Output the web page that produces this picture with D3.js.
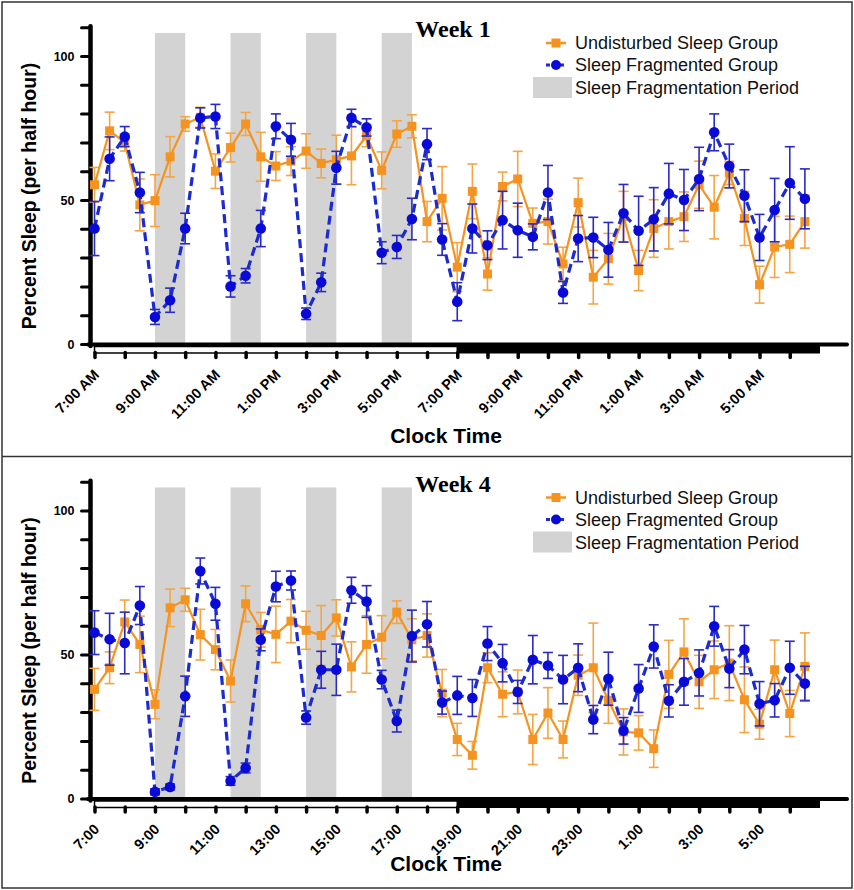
<!DOCTYPE html>
<html>
<head>
<meta charset="utf-8">
<script src="https://cdn.jsdelivr.net/npm/d3@7"></script>
<style>
  body { margin: 0; background: #fff; }
  svg { display: block; }
</style>
</head>
<body>
<svg id="chart" width="854" height="890"></svg>
<script>
// ---------- DATA ----------
// half-hour slots, expressed as hours after 7:00 AM
const slots = d3.range(0, 24, 0.5);
const hourTicks = d3.range(0, 24);
const labelHours = [0, 2, 4, 6, 8, 10, 12, 14, 16, 18, 20, 22];
const week1TickLabels = ["7:00 AM","9:00 AM","11:00 AM","1:00 PM","3:00 PM","5:00 PM","7:00 PM","9:00 PM","11:00 PM","1:00 AM","3:00 AM","5:00 AM"];
const week4TickLabels = ["7:00","9:00","11:00","13:00","15:00","17:00","19:00","21:00","23:00","1:00","3:00","5:00"];
const fragPeriods = [[2, 3], [4.5, 5.5], [7, 8], [9.5, 10.5]];
const lightPhase = [0, 12];
const darkPhase = [12, 24];
const yTicks = [0, 10, 20, 30, 40, 50, 60, 70, 80, 90, 100, 110];
const yLabels = [0, 50, 100];
const seriesNames = ["Undisturbed Sleep Group", "Sleep Fragmented Group", "Sleep Fragmentation Period"];

const week1Undisturbed = [55.3,74,70,48.3,49.8,65,76.4,78.7,60,68.2,76.4,65,61.8,63.5,67,62.7,64,65.3,72.3,60.3,72.9,75.6,42.5,50.6,26.7,53,24.3,54.7,57.3,41.9,42.5,27.8,49.1,23.2,29.6,44.2,25.5,40.1,42.5,44.2,55.3,47.5,59.4,43.6,20.6,33.7,34.6,42.5];
const week1UndisturbedErr = [6,6.5,3,9,9,7,2.5,3.5,6,5,4,8.5,5,5,6,5,8.5,10,3.8,6.4,4.6,4,7,11,8.5,9.5,5.6,5,9.6,5.3,7.8,5.8,8.5,9.3,8.8,8.8,7,10,9.5,8.6,8.2,11,4,9.4,6.4,10.6,9.8,9.2];
const week1Fragmented = [40.1,64.3,72,52.6,9.4,15.2,40.1,78.5,79,20,23.7,40.1,75.6,70.9,10.5,21.4,61.2,78.5,75.2,31.7,33.7,43.4,69.4,36.3,14.7,40.1,34.3,43,39.5,37.2,52.6,17.9,36.6,37,32.7,45.4,39.3,43.3,52.2,50,57.3,73.5,61.8,51.5,37,46.5,55.9,50.4];
const week1FragmentedErr = [9.4,7.6,3.5,7,2.6,4.2,5.3,3.5,4.2,3.7,2.5,6.3,4.3,5.7,2,3.2,5.7,3,3,3.8,4,7.2,5.4,5.5,6.6,8.5,5,10,9.4,4.5,9.4,3.8,8,7,9.5,10,12,11,10.5,10.6,11,6.4,7.6,9,8,11,12.6,10.4];

const week4Undisturbed = [37.9,45.4,61.3,53.5,32.7,66.2,69,56.9,51.7,40.8,67.6,58.6,57,61.6,58.4,56.6,62.7,45.7,53.5,56,64.7,55.1,56.6,36.6,20.5,15,45.4,36.2,37,20.5,29.7,20.5,42.8,45.4,34.1,23.1,22.8,17.3,43.1,50.9,40.5,44.7,47,34.3,25.8,44.7,29.5,45.9];
const week4UndisturbedErr = [7.3,5.5,7.6,9.8,5,6.5,4,8.8,7,7.3,6.2,6,9.8,7.5,6.6,10.4,6.3,8.7,10,7.5,3.9,7.3,7.5,8.2,5.6,4.8,5.2,7.8,7.6,8.7,8.8,6.4,7,15.5,8,8,6,6.5,11.8,11.5,9.2,10,13,11.4,5.2,10.3,8,11.6];
const week4Fragmented = [57.6,55.3,54,67,2.3,4,35.5,79,67.6,6.1,10.6,55.1,73.6,75.7,28.1,44.7,44.7,72.3,68.4,41.3,26.9,56.4,60.5,33.3,35.8,34.9,53.8,47,37,48.2,46.2,41.3,45.4,27.4,41.6,23.5,38.2,52.8,33.9,40.5,43.6,59.8,45.1,51.7,32.9,34.1,45.4,39.9];
const week4FragmentedErr = [7.6,9,10.7,6.6,1,1,7,4.5,5.7,1.5,1.7,3.8,5.3,3.3,2.3,6.4,8.9,4.5,5.5,3.2,3.8,9,7.9,4,6.6,6.4,5.9,6.5,4,8.4,4.5,8.4,8.3,4.9,9.2,4.6,8.3,7.5,5.6,8.1,8,6.9,6.6,8.4,7.7,5.8,9.2,6];

// ---------- STYLE ----------
const ORANGE = "#F49320";
const ORANGE_ERR = "#F4A545";
const BLUE = "#0A0AD8";
const BLUE_LINE = "#1B2BD0";
const BLUE_ERR = "#2A2AC4";
const GREY = "#D3D3D3";
const SANS = "'Liberation Sans', Arial, sans-serif";

const svg = d3.select("#chart");

// outer frame
svg.append("rect").attr("x", 2).attr("y", 2).attr("width", 850).attr("height", 886)
  .attr("fill", "none").attr("stroke", "#333").attr("stroke-width", 1.5);
svg.append("line").attr("x1", 2).attr("x2", 852).attr("y1", 456.5).attr("y2", 456.5)
  .attr("stroke", "#333").attr("stroke-width", 1.5);

const x = d3.scaleLinear().domain([0, 24]).range([94.5, 820]);
const y = d3.scaleLinear().domain([0, 110]).range([344, 27.2]);

function drawPanel(offsetY, title, tickLabels, und, undErr, frag, fragErr, clockY) {
  const g = svg.append("g").attr("transform", `translate(0,${offsetY})`);

  // fragmentation periods
  g.selectAll("rect.frag").data(fragPeriods).join("rect")
    .attr("x", d => x(d[0])).attr("width", d => x(d[1]) - x(d[0]))
    .attr("y", y(108)).attr("height", d => y(0) - y(108))
    .attr("fill", GREY);

  // title
  g.append("text").attr("x", 453).attr("y", 37)
    .attr("text-anchor", "middle")
    .attr("font-family", "'Liberation Serif', 'Times New Roman', serif")
    .attr("font-weight", "bold").attr("font-size", 24)
    .text(title);

  // y axis
  const yAxis = d3.axisLeft(y).tickValues(yTicks).tickSize(9)
    .tickFormat(d => yLabels.includes(d) ? d : "");
  const ya = g.append("g").attr("transform", "translate(90.5,0)").call(yAxis);
  ya.select(".domain").remove();
  ya.selectAll(".tick line").attr("stroke", "#000").attr("stroke-width", 3).attr("stroke-linecap", "round");
  ya.selectAll(".tick text").attr("font-family", SANS)
    .attr("font-weight", "bold").attr("font-size", 12.5).attr("fill", "#000").attr("x", -16);
  g.append("line").attr("x1", 90.5).attr("x2", 90.5).attr("y1", y(110) - 1).attr("y2", y(0) + 2)
    .attr("stroke", "#000").attr("stroke-width", 4.5).attr("stroke-linecap", "round");

  // x axis line
  g.append("line").attr("x1", 88).attr("x2", 847).attr("y1", y(0) + 0.5).attr("y2", y(0) + 0.5)
    .attr("stroke", "#000").attr("stroke-width", 4).attr("stroke-linecap", "round");
  // light / dark bars
  g.append("rect").attr("x", x(lightPhase[0])).attr("width", x(lightPhase[1]) - x(lightPhase[0]))
    .attr("y", y(0) + 2.5).attr("height", 6.5)
    .attr("fill", "#fff").attr("stroke", "#000").attr("stroke-width", 1.5);
  g.append("rect").attr("x", x(darkPhase[0])).attr("width", x(darkPhase[1]) - x(darkPhase[0]))
    .attr("y", y(0)).attr("height", 9.5).attr("fill", "#000");

  const xAxis = d3.axisBottom(x).tickValues(hourTicks).tickSize(5).tickFormat("");
  const xa = g.append("g").attr("transform", `translate(0,${y(0) + 8.5})`).call(xAxis);
  xa.select(".domain").remove();
  xa.selectAll(".tick line").attr("stroke", "#000").attr("stroke-width", 3.5).attr("stroke-linecap", "round");

  g.selectAll("text.xl").data(labelHours).join("text")
    .attr("class", "xl")
    .attr("transform", d => `translate(${x(d) + 2},${y(0) + 28}) rotate(-45)`)
    .attr("text-anchor", "end")
    .attr("dy", "0.35em")
    .attr("font-family", SANS)
    .attr("font-weight", "bold").attr("font-size", 14.5)
    .text((d, i) => tickLabels[i]);

  // axis titles
  g.append("text").attr("x", 446).attr("y", clockY).attr("text-anchor", "middle")
    .attr("font-family", SANS)
    .attr("font-weight", "bold").attr("font-size", 21).text("Clock Time");
  g.append("text").attr("transform", "translate(36,196) rotate(-90)")
    .attr("text-anchor", "middle")
    .attr("font-family", SANS)
    .attr("font-weight", "bold").attr("font-size", 19.5).text("Percent Sleep (per half hour)");

  const undData = slots.map((s, i) => ({ s, v: und[i], e: undErr[i] }));
  const fragData = slots.map((s, i) => ({ s, v: frag[i], e: fragErr[i] }));

  function errorBars(data, color, width) {
    const eg = g.append("g").attr("stroke", color).attr("stroke-width", width).attr("fill", "none");
    data.forEach(d => {
      eg.append("line").attr("x1", x(d.s)).attr("x2", x(d.s)).attr("y1", y(d.v - d.e)).attr("y2", y(d.v + d.e));
      eg.append("line").attr("x1", x(d.s) - 5).attr("x2", x(d.s) + 5).attr("y1", y(d.v - d.e)).attr("y2", y(d.v - d.e));
      eg.append("line").attr("x1", x(d.s) - 5).attr("x2", x(d.s) + 5).attr("y1", y(d.v + d.e)).attr("y2", y(d.v + d.e));
    });
  }
  const line = d3.line().x(d => x(d.s)).y(d => y(d.v));

  errorBars(undData, ORANGE_ERR, 1.6);
  g.append("path").datum(undData).attr("d", line).attr("fill", "none")
    .attr("stroke", ORANGE).attr("stroke-width", 2.2);
  g.selectAll("rect.und").data(undData).join("rect").attr("class", "und")
    .attr("x", d => x(d.s) - 4.5).attr("y", d => y(d.v) - 4.5)
    .attr("width", 9).attr("height", 9).attr("fill", ORANGE);

  errorBars(fragData, BLUE_ERR, 1.6);
  g.append("path").datum(fragData).attr("d", line).attr("fill", "none")
    .attr("stroke", BLUE_LINE).attr("stroke-width", 3.2).attr("stroke-dasharray", "9,5");
  g.selectAll("circle.frag").data(fragData).join("circle").attr("class", "frag")
    .attr("cx", d => x(d.s)).attr("cy", d => y(d.v)).attr("r", 5.3).attr("fill", BLUE);

  // legend
  const lg = g.append("g");
  const rowsY = [43, 65, 88];
  lg.append("line").attr("x1", 546).attr("x2", 566).attr("y1", rowsY[0]).attr("y2", rowsY[0])
    .attr("stroke", ORANGE).attr("stroke-width", 2.5);
  lg.append("rect").attr("x", 551.5).attr("y", rowsY[0] - 4.5).attr("width", 9).attr("height", 9).attr("fill", ORANGE);
  lg.append("line").attr("x1", 546).attr("x2", 566).attr("y1", rowsY[1]).attr("y2", rowsY[1])
    .attr("stroke", BLUE_LINE).attr("stroke-width", 3).attr("stroke-dasharray", "4,3");
  lg.append("circle").attr("cx", 556).attr("cy", rowsY[1]).attr("r", 5).attr("fill", BLUE);
  lg.append("rect").attr("x", 533).attr("y", 77).attr("width", 39).attr("height", 21).attr("fill", GREY);
  lg.selectAll("text").data(seriesNames).join("text")
    .attr("x", 575).attr("y", (d, i) => rowsY[i]).attr("dy", "0.36em")
    .attr("font-family", SANS)
    .attr("font-size", 18).attr("fill", "#111")
    .text(d => d);
}

drawPanel(0, "Week 1", week1TickLabels, week1Undisturbed, week1UndisturbedErr, week1Fragmented, week1FragmentedErr, 443);
drawPanel(454.5, "Week 4", week4TickLabels, week4Undisturbed, week4UndisturbedErr, week4Fragmented, week4FragmentedErr, 416);
</script>
</body>
</html>
